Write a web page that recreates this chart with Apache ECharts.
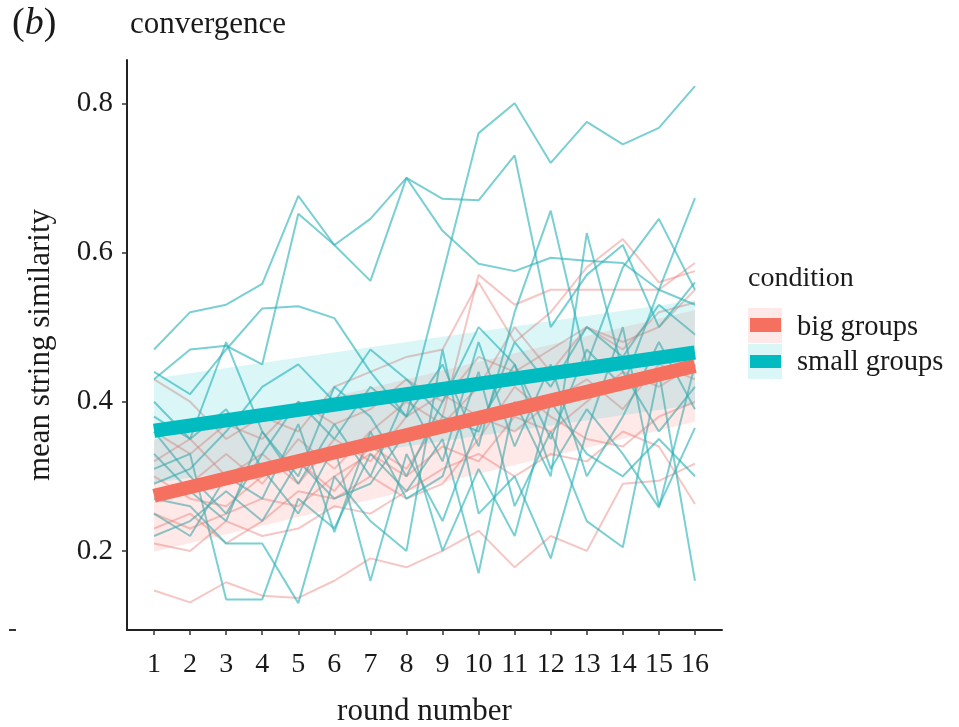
<!DOCTYPE html>
<html>
<head>
<meta charset="utf-8">
<script src="https://cdn.jsdelivr.net/npm/echarts@6/dist/echarts.min.js"></script>
<style>
  html, body { margin: 0; padding: 0; background: #fff; }
  #chart { width: 959px; height: 727px; }
</style>
</head>
<body>
<div id="chart"></div>
<script>
// Rounds played by each group
const rounds = [1, 2, 3, 4, 5, 6, 7, 8, 9, 10, 11, 12, 13, 14, 15, 16];
const yTicks = [0.2, 0.4, 0.6, 0.8];

// Mean string similarity per round, one row per small group
const smallGroups = [
  [0.44, 0.41, 0.47, 0.525, 0.528, 0.512, 0.44, 0.38, 0.57, 0.76, 0.80, 0.72, 0.775, 0.745, 0.767, 0.823],
  [0.47, 0.52, 0.53, 0.558, 0.676, 0.61, 0.645, 0.70, 0.672, 0.67, 0.73, 0.50, 0.57, 0.61, 0.50, 0.56],
  [0.43, 0.47, 0.475, 0.45, 0.652, 0.61, 0.562, 0.70, 0.629, 0.585, 0.575, 0.593, 0.589, 0.586, 0.55, 0.53],
  [0.40, 0.35, 0.48, 0.36, 0.30, 0.42, 0.38, 0.30, 0.40, 0.50, 0.45, 0.35, 0.47, 0.42, 0.55, 0.673],
  [0.36, 0.30, 0.25, 0.33, 0.40, 0.35, 0.42, 0.38, 0.45, 0.34, 0.52, 0.656, 0.45, 0.58, 0.645, 0.55],
  [0.31, 0.33, 0.135, 0.135, 0.27, 0.23, 0.33, 0.28, 0.35, 0.17, 0.40, 0.30, 0.626, 0.44, 0.36, 0.42],
  [0.27, 0.26, 0.21, 0.21, 0.13, 0.30, 0.24, 0.20, 0.47, 0.25, 0.30, 0.19, 0.36, 0.50, 0.26, 0.365],
  [0.25, 0.22, 0.30, 0.27, 0.37, 0.225, 0.36, 0.27, 0.30, 0.44, 0.26, 0.36, 0.24, 0.205, 0.44, 0.16],
  [0.38, 0.35, 0.39, 0.31, 0.25, 0.34, 0.16, 0.33, 0.24, 0.37, 0.45, 0.31, 0.39, 0.33, 0.258, 0.45],
  [0.33, 0.28, 0.24, 0.36, 0.29, 0.37, 0.30, 0.41, 0.32, 0.48, 0.34, 0.45, 0.30, 0.38, 0.48, 0.39],
  [0.22, 0.24, 0.28, 0.24, 0.32, 0.27, 0.29, 0.36, 0.20, 0.31, 0.22, 0.40, 0.33, 0.30, 0.35, 0.30],
  [0.29, 0.31, 0.36, 0.42, 0.45, 0.40, 0.47, 0.43, 0.38, 0.36, 0.48, 0.42, 0.50, 0.46, 0.53, 0.49]
];

// Mean string similarity per round, one row per big group
const bigGroups = [
  [0.147, 0.131, 0.158, 0.14, 0.137, 0.16, 0.19, 0.178, 0.20, 0.227, 0.178, 0.22, 0.20, 0.29, 0.294, 0.317],
  [0.21, 0.20, 0.24, 0.22, 0.23, 0.26, 0.25, 0.28, 0.31, 0.33, 0.30, 0.33, 0.32, 0.36, 0.34, 0.263],
  [0.30, 0.27, 0.26, 0.30, 0.32, 0.28, 0.34, 0.31, 0.38, 0.57, 0.53, 0.55, 0.55, 0.55, 0.55, 0.586],
  [0.43, 0.40, 0.35, 0.38, 0.36, 0.42, 0.44, 0.46, 0.47, 0.56, 0.48, 0.52, 0.58, 0.618, 0.56, 0.575],
  [0.27, 0.29, 0.33, 0.29, 0.35, 0.31, 0.36, 0.40, 0.37, 0.42, 0.50, 0.44, 0.50, 0.47, 0.52, 0.533],
  [0.25, 0.23, 0.25, 0.27, 0.26, 0.30, 0.33, 0.30, 0.34, 0.32, 0.38, 0.36, 0.40, 0.44, 0.42, 0.45],
  [0.32, 0.35, 0.30, 0.33, 0.29, 0.35, 0.32, 0.38, 0.41, 0.38, 0.36, 0.40, 0.43, 0.39, 0.45, 0.43],
  [0.23, 0.25, 0.21, 0.24, 0.28, 0.27, 0.30, 0.27, 0.29, 0.35, 0.42, 0.38, 0.35, 0.34, 0.38, 0.40],
  [0.36, 0.33, 0.37, 0.35, 0.40, 0.37, 0.39, 0.43, 0.40, 0.46, 0.44, 0.47, 0.50, 0.48, 0.50, 0.55]
];

// Linear fits with confidence band, at the first and last round
const fitRounds = [1, 16];
const smallFit = [0.361, 0.466];
const smallLow = [0.291, 0.396];
const smallHigh = [0.431, 0.536];
const bigFit = [0.274, 0.448];
const bigLow = [0.199, 0.373];
const bigHigh = [0.349, 0.523];

const conditions = ['big groups', 'small groups'];

const RED = '#F6705F';
const TEAL = '#00BBC0';
const RED_BAND = 'rgba(248,118,109,0.16)';
const TEAL_BAND = 'rgba(0,191,196,0.14)';
const FONT = '"Liberation Serif", "DejaVu Serif", serif';
const INK = '#1a1a1a';

const pairs = (xs, ys) => xs.map((x, i) => [x, ys[i]]);

const series = [];

bigGroups.forEach(row => {
  series.push({
    type: 'line', data: pairs(rounds, row), symbol: 'none', silent: true,
    lineStyle: { color: 'rgba(232,120,112,0.42)', width: 2 }, z: 2
  });
});
smallGroups.forEach(row => {
  series.push({
    type: 'line', data: pairs(rounds, row), symbol: 'none', silent: true,
    lineStyle: { color: 'rgba(40,178,182,0.62)', width: 2 }, z: 3
  });
});

// Confidence band as a polygon through the axis scales
function band(low, high, fill) {
  const data = fitRounds.map((x, i) => [x, low[i], high[i]]);
  return {
    type: 'custom', silent: true, z: 4,
    data: data,
    encode: { x: 0, y: [1, 2] },
    renderItem: function (params, api) {
      if (params.dataIndex !== 0) return null;
      const top = data.map(d => api.coord([d[0], d[2]]));
      const bottom = data.map(d => api.coord([d[0], d[1]])).reverse();
      return {
        type: 'polygon',
        shape: { points: top.concat(bottom) },
        style: { fill: fill }
      };
    }
  };
}
series.push(band(bigLow, bigHigh, RED_BAND));
series.push(band(smallLow, smallHigh, TEAL_BAND));

series.push({
  name: conditions[0], type: 'line', data: pairs(fitRounds, bigFit), symbol: 'none', silent: true,
  lineStyle: { color: RED, width: 14, cap: 'butt' }, z: 6
});
series.push({
  name: conditions[1], type: 'line', data: pairs(fitRounds, smallFit), symbol: 'none', silent: true,
  lineStyle: { color: TEAL, width: 14, cap: 'butt' }, z: 7
});

const chart = echarts.init(document.getElementById('chart'), null, { renderer: 'canvas' });

chart.setOption({
  backgroundColor: '#fff',
  animation: false,
  grid: { left: 127, right: 237, top: 60, bottom: 97, containLabel: false, outerBoundsMode: 'none' },
  xAxis: {
    type: 'value', min: 0.25, max: 16.75,
    name: 'round number', nameLocation: 'middle', nameGap: 82,
    nameTextStyle: { fontFamily: FONT, fontSize: 31, color: INK, verticalAlign: 'middle' },
    axisLine: { show: true, onZero: false, lineStyle: { color: '#222', width: 2 } },
    axisTick: { show: true, length: 5, customValues: rounds, lineStyle: { color: '#333', width: 1.5 } },
    axisLabel: { customValues: rounds, fontFamily: FONT, fontSize: 28, color: INK, margin: 21 },
    splitLine: { show: false }
  },
  yAxis: {
    type: 'value', min: 0.094, max: 0.858,
    name: 'mean string similarity', nameLocation: 'middle', nameGap: 86,
    nameTextStyle: { fontFamily: FONT, fontSize: 31, color: INK, verticalAlign: 'middle' },
    axisLine: { show: true, onZero: false, lineStyle: { color: '#222', width: 2 } },
    axisTick: { show: true, length: 5, customValues: yTicks, lineStyle: { color: '#333', width: 1.5 } },
    axisLabel: {
      customValues: yTicks, fontFamily: FONT, fontSize: 29, color: INK, margin: 14,
      formatter: v => v.toFixed(1)
    },
    splitLine: { show: false }
  },
  series: series,
  graphic: [
    {
      type: 'text', left: 12, top: 5,
      style: {
        text: '{p|(}{b|b}{p|)}',
        rich: {
          p: { fontFamily: FONT, fontSize: 38, fill: INK },
          b: { fontFamily: FONT, fontSize: 38, fontStyle: 'italic', fill: INK }
        }
      }
    },
    {
      type: 'text', left: 130, top: 9,
      style: { text: 'convergence', fontFamily: FONT, fontSize: 31, fill: INK }
    },
    { type: 'line', shape: { x1: 9, y1: 630, x2: 16, y2: 630 }, style: { stroke: '#333', lineWidth: 2 } },
    // legend
    {
      type: 'text', left: 748, top: 265,
      style: { text: 'condition', fontFamily: FONT, fontSize: 28, fill: INK }
    },
    { type: 'rect', shape: { x: 748, y: 308, width: 34, height: 35 }, style: { fill: RED_BAND } },
    { type: 'rect', shape: { x: 750, y: 318, width: 31, height: 14 }, style: { fill: RED } },
    { type: 'rect', shape: { x: 748, y: 344, width: 34, height: 35 }, style: { fill: TEAL_BAND } },
    { type: 'rect', shape: { x: 750, y: 355, width: 31, height: 13 }, style: { fill: TEAL } },
    {
      type: 'text', left: 797, top: 313,
      style: { text: conditions[0], fontFamily: FONT, fontSize: 28.5, fill: INK }
    },
    {
      type: 'text', left: 797, top: 348,
      style: { text: conditions[1], fontFamily: FONT, fontSize: 28.5, fill: INK }
    }
  ]
});
</script>
</body>
</html>
